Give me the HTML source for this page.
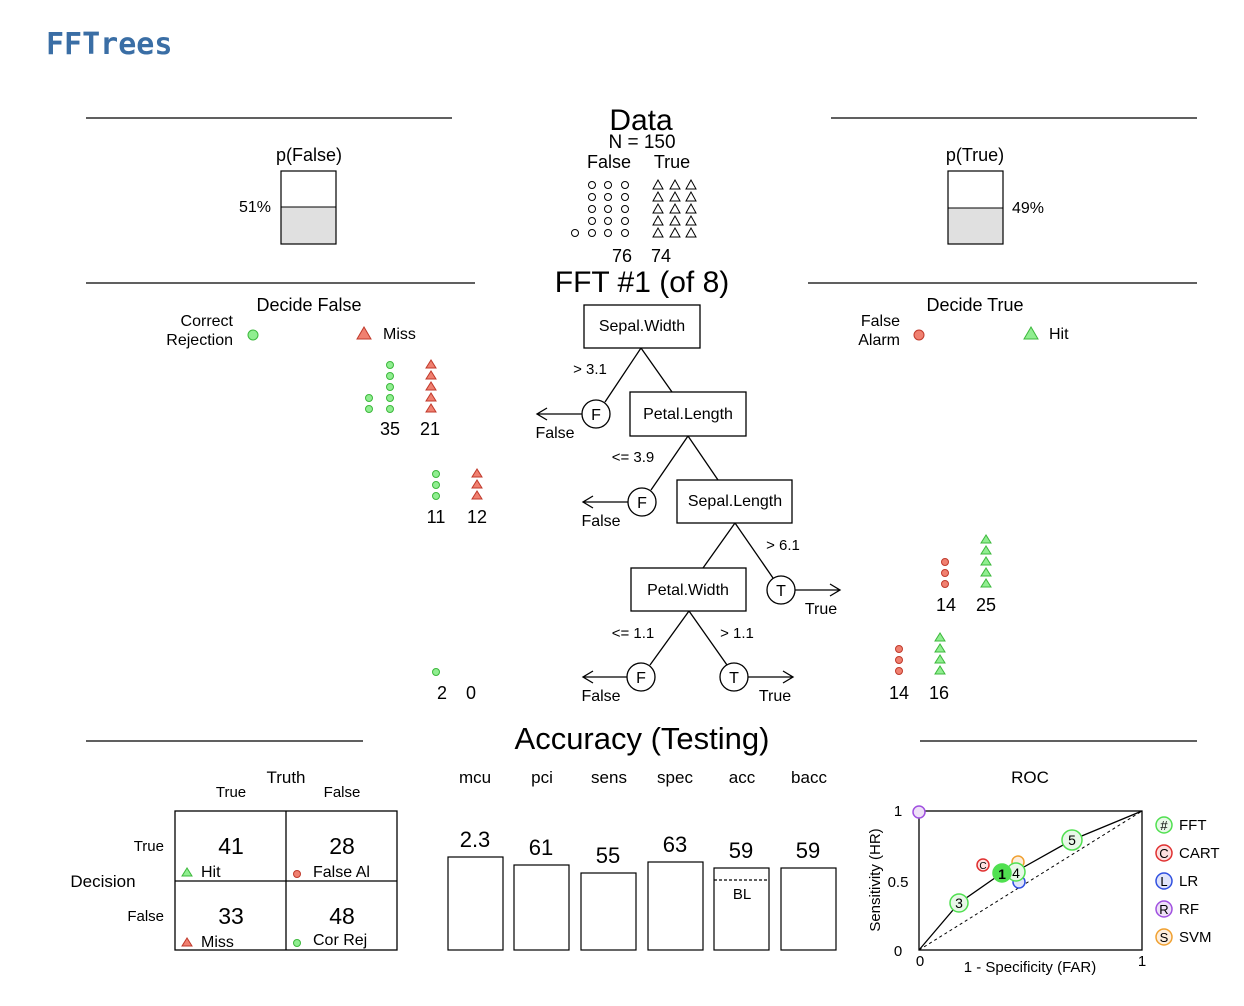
<!DOCTYPE html><html><head><meta charset="utf-8"><style>body{margin:0;background:#fff}svg{display:block}text{font-family:"Liberation Sans",sans-serif;fill:#000}</style></head><body>
<svg width="1244" height="1006" viewBox="0 0 1244 1006" xmlns="http://www.w3.org/2000/svg">
<text x="46" y="54" font-size="30" font-weight="bold" style="font-family:'DejaVu Sans Mono',monospace;fill:#3a6ea5">FFTrees</text>
<g stroke="#000" stroke-width="1.3">
<line x1="86" y1="118" x2="452" y2="118"/><line x1="831" y1="118" x2="1197" y2="118"/>
<line x1="86" y1="283" x2="475" y2="283"/><line x1="808" y1="283" x2="1197" y2="283"/>
<line x1="86" y1="741" x2="363" y2="741"/><line x1="920" y1="741" x2="1197" y2="741"/>
</g>
<text x="641" y="130" font-size="30" text-anchor="middle">Data</text>
<text x="642" y="148" font-size="19" text-anchor="middle">N = 150</text>
<text x="609" y="168" font-size="18" text-anchor="middle">False</text>
<text x="672" y="168" font-size="18" text-anchor="middle">True</text>
<g fill="none" stroke="#000" stroke-width="1">
<circle cx="592" cy="185" r="3.5"/><circle cx="608" cy="185" r="3.5"/><circle cx="625" cy="185" r="3.5"/>
<circle cx="592" cy="197" r="3.5"/><circle cx="608" cy="197" r="3.5"/><circle cx="625" cy="197" r="3.5"/>
<circle cx="592" cy="209" r="3.5"/><circle cx="608" cy="209" r="3.5"/><circle cx="625" cy="209" r="3.5"/>
<circle cx="592" cy="221" r="3.5"/><circle cx="608" cy="221" r="3.5"/><circle cx="625" cy="221" r="3.5"/>
<circle cx="575" cy="233" r="3.5"/><circle cx="592" cy="233" r="3.5"/><circle cx="608" cy="233" r="3.5"/><circle cx="625" cy="233" r="3.5"/>
<path d="M658 180l-5 9h10zM675 180l-5 9h10zM691 180l-5 9h10zM658 192l-5 9h10zM675 192l-5 9h10zM691 192l-5 9h10zM658 204l-5 9h10zM675 204l-5 9h10zM691 204l-5 9h10zM658 216l-5 9h10zM675 216l-5 9h10zM691 216l-5 9h10zM658 228l-5 9h10zM675 228l-5 9h10zM691 228l-5 9h10z"/>
</g>
<text x="622" y="262" font-size="18" text-anchor="middle">76</text>
<text x="661" y="262" font-size="18" text-anchor="middle">74</text>
<text x="642" y="292" font-size="30" text-anchor="middle">FFT #1 (of 8)</text>
<!-- p(False) -->
<text x="309" y="161" font-size="18" text-anchor="middle">p(False)</text>
<rect x="281" y="207" width="55" height="37" fill="#e0e0e0"/>
<rect x="281" y="171" width="55" height="73" fill="none" stroke="#000" stroke-width="1.2"/>
<line x1="281" y1="207" x2="336" y2="207" stroke="#000"/>
<text x="271" y="212" font-size="16" text-anchor="end">51%</text>
<text x="975" y="161" font-size="18" text-anchor="middle">p(True)</text>
<rect x="948" y="208" width="55" height="36" fill="#e0e0e0"/>
<rect x="948" y="171" width="55" height="73" fill="none" stroke="#000" stroke-width="1.2"/>
<line x1="948" y1="208" x2="1003" y2="208" stroke="#000"/>
<text x="1012" y="213" font-size="16">49%</text>
<!-- Decide False -->
<text x="309" y="311" font-size="18" text-anchor="middle">Decide False</text>
<text x="233" y="326" font-size="16" text-anchor="end">Correct</text>
<text x="233" y="345" font-size="16" text-anchor="end">Rejection</text>
<circle cx="253" cy="335" r="5" fill="#90ee90" stroke="#3cb83c"/>
<path d="M364 327l-7 12h14z" fill="#f08070" stroke="#c0392b"/>
<text x="383" y="339" font-size="16">Miss</text>
<text x="975" y="311" font-size="18" text-anchor="middle">Decide True</text>
<text x="900" y="326" font-size="16" text-anchor="end">False</text>
<text x="900" y="345" font-size="16" text-anchor="end">Alarm</text>
<circle cx="919" cy="335" r="5" fill="#f08070" stroke="#c0392b"/>
<path d="M1031 327l-7 12h14z" fill="#90ee90" stroke="#3cb83c"/>
<text x="1049" y="339" font-size="16">Hit</text>
<!-- green circles -->
<g fill="#90ee90" stroke="#3cb83c" stroke-width="1">
<circle cx="390" cy="365" r="3.5"/><circle cx="390" cy="376" r="3.5"/><circle cx="390" cy="387" r="3.5"/><circle cx="390" cy="398" r="3.5"/><circle cx="390" cy="409" r="3.5"/>
<circle cx="369" cy="398" r="3.5"/><circle cx="369" cy="409" r="3.5"/>
<circle cx="436" cy="474" r="3.5"/><circle cx="436" cy="485" r="3.5"/><circle cx="436" cy="496" r="3.5"/>
<circle cx="436" cy="672" r="3.5"/>
<path d="M986 535l-5 8h10zM986 546l-5 8h10zM986 557l-5 8h10zM986 568l-5 8h10zM986 579l-5 8h10zM940 633l-5 8h10zM940 644l-5 8h10zM940 655l-5 8h10zM940 666l-5 8h10z"/>
</g>
<g fill="#f08070" stroke="#c0392b" stroke-width="1">
<path d="M431 360l-5 8h10zM431 371l-5 8h10zM431 382l-5 8h10zM431 393l-5 8h10zM431 404l-5 8h10zM477 469l-5 8h10zM477 480l-5 8h10zM477 491l-5 8h10z"/>
<circle cx="945" cy="562" r="3.5"/><circle cx="945" cy="573" r="3.5"/><circle cx="945" cy="584" r="3.5"/>
<circle cx="899" cy="649" r="3.5"/><circle cx="899" cy="660" r="3.5"/><circle cx="899" cy="671" r="3.5"/>
</g>
<g font-size="18" text-anchor="middle">
<text x="390" y="435">35</text><text x="430" y="435">21</text>
<text x="436" y="523">11</text><text x="477" y="523">12</text>
<text x="442" y="699">2</text><text x="471" y="699">0</text>
<text x="946" y="611">14</text><text x="986" y="611">25</text>
<text x="899" y="699">14</text><text x="939" y="699">16</text>
</g>
<!-- tree -->
<g stroke="#000" stroke-width="1.3" fill="none">
<rect x="584" y="305" width="116" height="43"/>
<rect x="630" y="392" width="116" height="44"/>
<rect x="677" y="480" width="115" height="43"/>
<rect x="631" y="568" width="115" height="43"/>
<line x1="641" y1="348" x2="605" y2="402"/><line x1="641" y1="348" x2="672" y2="392"/>
<line x1="688" y1="436" x2="651" y2="490"/><line x1="688" y1="436" x2="718" y2="480"/>
<line x1="735" y1="523" x2="703" y2="568"/><line x1="735" y1="523" x2="773" y2="578"/>
<line x1="689" y1="611" x2="650" y2="665"/><line x1="689" y1="611" x2="727" y2="665"/>
<circle cx="596" cy="414" r="14" fill="#fff"/><circle cx="642" cy="502" r="14" fill="#fff"/>
<circle cx="781" cy="590" r="14" fill="#fff"/><circle cx="641" cy="677" r="14" fill="#fff"/><circle cx="734" cy="677" r="14" fill="#fff"/>
<path d="M582 414H537M547 408l-10 6 10 6"/>
<path d="M628 502H583M593 496l-10 6 10 6"/>
<path d="M795 590H840M830 584l10 6-10 6"/>
<path d="M627 677H583M593 671l-10 6 10 6"/>
<path d="M748 677H793M783 671l10 6-10 6"/>
</g>
<g font-size="16" text-anchor="middle">
<text x="642" y="331">Sepal.Width</text><text x="688" y="419">Petal.Length</text>
<text x="735" y="506">Sepal.Length</text><text x="688" y="595">Petal.Width</text>
<text x="596" y="420">F</text><text x="642" y="508">F</text><text x="781" y="596">T</text><text x="641" y="683">F</text><text x="734" y="683">T</text>
<text x="555" y="438">False</text><text x="601" y="526">False</text><text x="821" y="614">True</text><text x="601" y="701">False</text><text x="775" y="701">True</text>
<text x="590" y="374" font-size="15">&gt; 3.1</text><text x="633" y="462" font-size="15">&lt;= 3.9</text>
<text x="783" y="550" font-size="15">&gt; 6.1</text><text x="633" y="638" font-size="15">&lt;= 1.1</text><text x="737" y="638" font-size="15">&gt; 1.1</text>
</g>
<!-- accuracy -->
<text x="642" y="749" font-size="31" text-anchor="middle">Accuracy (Testing)</text>
<text x="286" y="783" font-size="17" text-anchor="middle">Truth</text>
<text x="231" y="797" font-size="15" text-anchor="middle">True</text>
<text x="342" y="797" font-size="15" text-anchor="middle">False</text>
<text x="103" y="887" font-size="17" text-anchor="middle">Decision</text>
<text x="164" y="851" font-size="15" text-anchor="end">True</text>
<text x="164" y="921" font-size="15" text-anchor="end">False</text>
<g stroke="#000" stroke-width="1.3" fill="none">
<rect x="175" y="811" width="222" height="139"/><line x1="286" y1="811" x2="286" y2="950"/><line x1="175" y1="881" x2="397" y2="881"/>
</g>
<g font-size="23" text-anchor="middle"><text x="231" y="854">41</text><text x="342" y="854">28</text><text x="231" y="924">33</text><text x="342" y="924">48</text></g>
<g font-size="16"><text x="201" y="877">Hit</text><text x="313" y="877">False Al</text><text x="201" y="947">Miss</text><text x="313" y="945">Cor Rej</text></g>
<path d="M187 868l-5 8h10z" fill="#90ee90" stroke="#3cb83c"/>
<path d="M187 938l-5 8h10z" fill="#f08070" stroke="#c0392b"/>
<circle cx="297" cy="874" r="3.5" fill="#f08070" stroke="#c0392b"/>
<circle cx="297" cy="943" r="3.5" fill="#90ee90" stroke="#3cb83c"/>
<g font-size="17" text-anchor="middle"><text x="475" y="783">mcu</text><text x="542" y="783">pci</text><text x="609" y="783">sens</text><text x="675" y="783">spec</text><text x="742" y="783">acc</text><text x="809" y="783">bacc</text></g>
<g stroke="#000" stroke-width="1.2" fill="#fff">
<rect x="448" y="857" width="55" height="93"/><rect x="514" y="865" width="55" height="85"/><rect x="581" y="873" width="55" height="77"/>
<rect x="648" y="862" width="55" height="88"/><rect x="714" y="868" width="55" height="82"/><rect x="781" y="868" width="55" height="82"/>
<line x1="714" y1="880" x2="769" y2="880" stroke-dasharray="3,2"/>
</g>
<g font-size="22" text-anchor="middle"><text x="475" y="847">2.3</text><text x="541" y="855">61</text><text x="608" y="863">55</text><text x="675" y="852">63</text><text x="741" y="858">59</text><text x="808" y="858">59</text></g>
<text x="742" y="899" font-size="15" text-anchor="middle">BL</text>
<!-- ROC -->
<text x="1030" y="783" font-size="17" text-anchor="middle">ROC</text>
<rect x="919" y="811" width="223" height="139" fill="none" stroke="#000" stroke-width="1.3"/>
<line x1="919" y1="950" x2="1142" y2="811" stroke="#000" stroke-dasharray="3,3"/>
<polyline points="919,950 959,903 1002,873 1015,872 1072,840 1142,811" fill="none" stroke="#000" stroke-width="1.3"/>
<g font-size="15" text-anchor="middle"><text x="898" y="816">1</text><text x="898" y="887">0.5</text><text x="898" y="956">0</text><text x="920" y="966">0</text><text x="1142" y="966">1</text></g>
<text x="1030" y="972" font-size="15" text-anchor="middle">1 - Specificity (FAR)</text>
<text transform="translate(880,880) rotate(-90)" font-size="15" text-anchor="middle">Sensitivity (HR)</text>
<g stroke-width="1.5" font-size="11" text-anchor="middle">
<circle cx="919" cy="812" r="6" fill="#eee0f7" stroke="#a050e0"/>
<circle cx="983" cy="865" r="6" fill="#fde0e0" stroke="#e03030"/>
<circle cx="1018" cy="862" r="6" fill="#fdeedd" stroke="#f0a030"/>
<circle cx="1019" cy="882" r="6" fill="#e0e4fa" stroke="#3050e0"/>
<circle cx="959" cy="903" r="9" fill="#e8f8e8" stroke="#50e050"/>
<circle cx="1016" cy="872" r="9" fill="#e8f8e8" stroke="#50e050"/>
<circle cx="1002" cy="873" r="9" fill="#50e050" stroke="#50e050"/>
<circle cx="1072" cy="840" r="10" fill="#e8f8e8" stroke="#50e050"/>
</g>
<g font-size="14" text-anchor="middle"><text x="959" y="908">3</text><text x="1016" y="878">4</text><text x="1002" y="879" font-weight="bold">1</text><text x="1072" y="845">5</text><text x="983" y="869" font-size="10">C</text></g>
<g stroke-width="1.5" font-size="13" text-anchor="middle">
<circle cx="1164" cy="825" r="8" fill="#e8f8e8" stroke="#50e050"/><circle cx="1164" cy="853" r="8" fill="#fde0e0" stroke="#e03030"/>
<circle cx="1164" cy="881" r="8" fill="#e0e4fa" stroke="#3050e0"/><circle cx="1164" cy="909" r="8" fill="#eee0f7" stroke="#a050e0"/>
<circle cx="1164" cy="937" r="8" fill="#fdeedd" stroke="#f0a030"/>
</g>
<g font-size="13" text-anchor="middle"><text x="1164" y="830">#</text><text x="1164" y="858">C</text><text x="1164" y="886">L</text><text x="1164" y="914">R</text><text x="1164" y="942">S</text></g>
<g font-size="15"><text x="1179" y="830">FFT</text><text x="1179" y="858">CART</text><text x="1179" y="886">LR</text><text x="1179" y="914">RF</text><text x="1179" y="942">SVM</text></g>
</svg></body></html>
